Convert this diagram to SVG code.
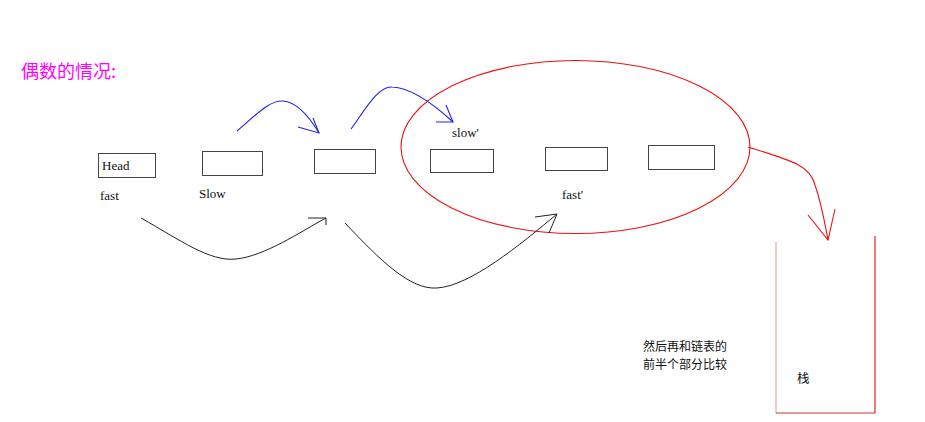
<svg xmlns="http://www.w3.org/2000/svg" width="925" height="422" viewBox="0 0 925 422">
<style>
.box{fill:#fff;stroke:#444;stroke-width:1}
.lbl{font-family:"Liberation Serif","DejaVu Serif",serif;font-size:13px;fill:#111}
.cjk{font-family:"Noto Sans CJK SC","Noto Sans",sans-serif;font-size:12.5px;fill:#111}
.note{font-family:"Noto Sans CJK SC","Noto Sans",sans-serif;font-size:12px;fill:#111}
.blue{fill:none;stroke:#2222ee;stroke-width:1.1}
.black{fill:none;stroke:#222;stroke-width:1}
.red{fill:none;stroke:#ee1111;stroke-width:1.1}
</style>
<rect width="925" height="422" fill="#fff"/>
<text x="21" y="78" font-family="'Noto Sans CJK SC','Noto Sans',sans-serif" font-size="18" fill="#ff00ff">偶数的情况:</text>
<g id="node-head"><rect class="box" x="98.5" y="153.5" width="57" height="24"/><text class="lbl" x="102" y="170">Head</text></g>
<g id="node-2"><rect class="box" x="202.5" y="151.5" width="60" height="24"/></g>
<g id="node-3"><rect class="box" x="314.5" y="149.5" width="61" height="24"/></g>
<g id="node-4"><rect class="box" x="430.5" y="149.5" width="63" height="23"/></g>
<g id="node-5"><rect class="box" x="545.5" y="147.5" width="62" height="23"/></g>
<g id="node-6"><rect class="box" x="648.5" y="145.5" width="66" height="24"/></g>
<g id="labels">
<text class="lbl" x="100" y="200">fast</text>
<text class="lbl" x="199" y="198">Slow</text>
<text class="lbl" x="452" y="137">slow'</text>
<text class="lbl" x="562" y="199">fast'</text>
</g>
<g id="group-ellipse"><ellipse cx="575.5" cy="147" rx="174.5" ry="86.5" fill="none" stroke="#ee1111" stroke-width="1.1"/></g>
<g id="stack">
<line x1="776" y1="242" x2="776" y2="413" stroke="#f4a0a0" stroke-width="1.2"/>
<line x1="776" y1="413" x2="875" y2="413" stroke="#cc3333" stroke-width="1"/>
<line x1="875" y1="236" x2="875" y2="413" stroke="#dd1111" stroke-width="1.1"/>
<text class="cjk" x="797" y="383">栈</text>
</g>
<g id="note">
<text class="note" x="643" y="351">然后再和链表的</text>
<text class="note" x="643" y="369">前半个部分比较</text>
</g>
<g id="connectors">
<path class="blue" d="M237,131 C258,113 270,100 283,101 C297,102 310,118 319,133"/>
<path class="blue" d="M313,118 L319,133 L298,127"/>
<path class="blue" d="M351,129 C365,110 378,86 392,87 C415,88 440,110 453,122"/>
<path class="blue" d="M446,105 L453,122 L436,122"/>
<path class="black" d="M141,218 C180,240 210,262 236,259 C265,256 300,232 326,218"/>
<path class="black" d="M308,218 L326,218 L326,225"/>
<path class="black" d="M345,223 C380,260 410,290 437,288 C470,286 520,245 557,214"/>
<path class="black" d="M535,217 L557,214 L549,233"/>
<path class="red" d="M748,147 C790,160 810,165 815,185 C822,205 825,225 828,240"/>
<path class="red" d="M808,215 L828,240 L835,209"/>
</g>
</svg>
